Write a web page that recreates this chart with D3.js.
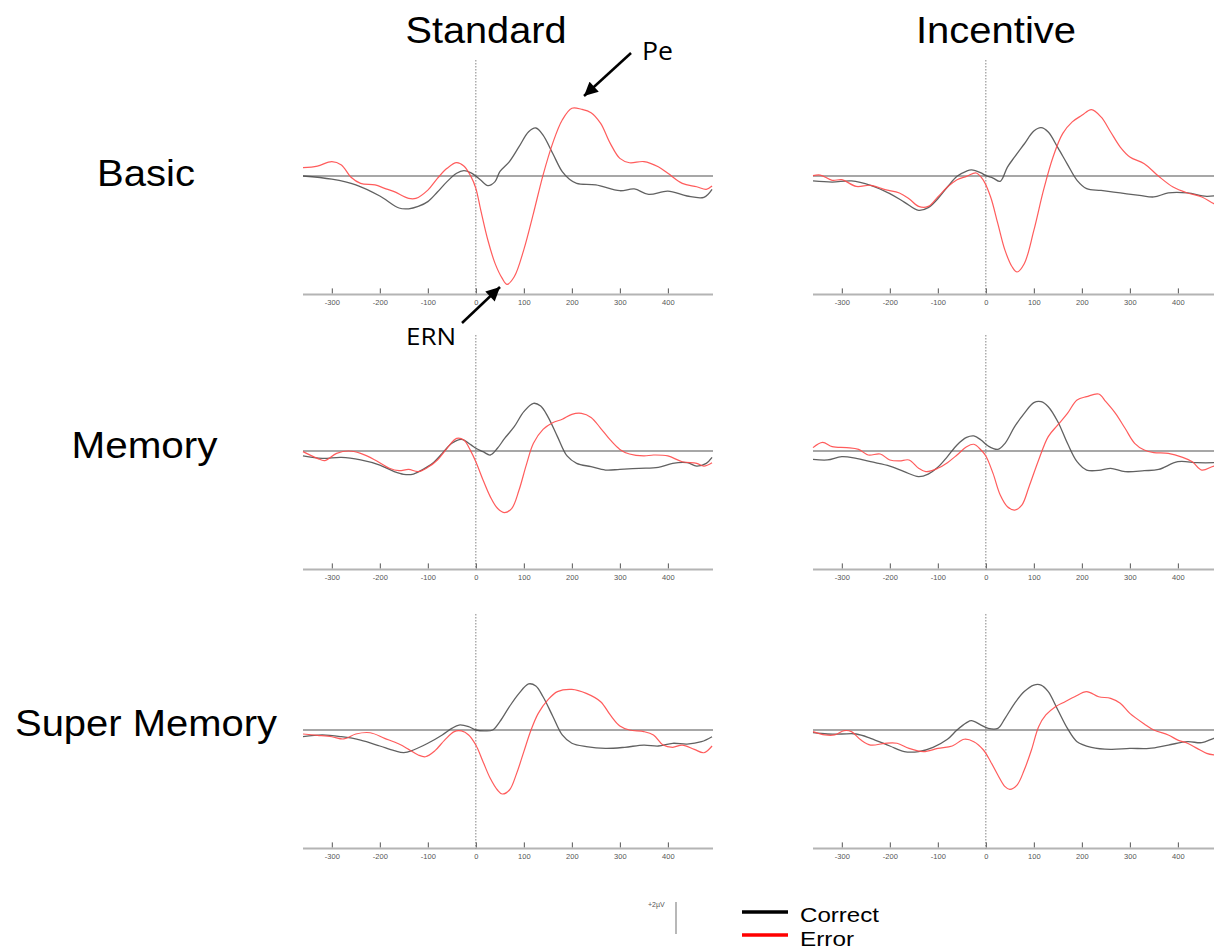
<!DOCTYPE html>
<html>
<head>
<meta charset="utf-8">
<script src="https://cdn.jsdelivr.net/npm/d3@7"></script>
<style>
  html, body { margin: 0; padding: 0; background: #fff; }
  svg { display: block; }
</style>
</head>
<body>
<svg id="chart" width="1214" height="948"></svg>
<script>
// ---------------- DATA ----------------
const columns = ["Standard", "Incentive"];
const rows = ["Basic", "Memory", "Super Memory"];
const tickValues = [-300, -200, -100, 0, 100, 200, 300, 400];
const timeDomain = [-360, 494];     // ms
const ampDomain = [-7.4, 7.4];      // µV
const legendLabels = ["Correct", "Error"];
const scaleBarLabel = "+2µV";
const annotations = ["Pe", "ERN"];

// [ms, µV]
const stdBasicCorrect = [[-360,0],[-300,-0.2],[-250,-0.55],[-200,-1.25],[-160,-2.0],[-140,-2.05],[-120,-1.9],[-100,-1.6],[-80,-1.0],[-60,-0.35],[-40,0.17],[-25,0.33],[-10,0.2],[0,0],[10,-0.25],[25,-0.6],[40,-0.35],[50,0.27],[70,0.9],[90,1.83],[110,2.77],[125,3.0],[140,2.56],[160,1.42],[180,0.27],[195,-0.2],[210,-0.46],[250,-0.56],[300,-0.92],[330,-0.81],[360,-1.15],[400,-0.94],[440,-1.25],[475,-1.33],[492,-0.83]];
const stdBasicError = [[-360,0.52],[-330,0.62],[-300,0.9],[-280,0.69],[-260,-0.08],[-240,-0.46],[-210,-0.56],[-190,-0.77],[-170,-0.98],[-140,-1.4],[-125,-1.4],[-100,-0.88],[-80,-0.15],[-60,0.48],[-40,0.83],[-25,0.62],[-10,-0.04],[0,-0.77],[10,-2.1],[25,-4.0],[40,-5.46],[55,-6.4],[65,-6.77],[80,-6.3],[100,-4.6],[120,-2.33],[140,0.06],[160,2.04],[180,3.5],[200,4.23],[220,4.17],[240,3.96],[260,3.29],[280,2.04],[300,1.1],[320,0.83],[350,0.9],[380,0.58],[400,0.17],[430,-0.46],[460,-0.67],[480,-0.83],[492,-0.63]];

const incBasicCorrect = [[-360,-0.31],[-320,-0.38],[-280,-0.31],[-240,-0.58],[-200,-1.1],[-170,-1.63],[-140,-2.15],[-120,-1.98],[-100,-1.42],[-80,-0.69],[-60,-0.02],[-40,0.31],[-30,0.38],[-10,0.19],[0,0.02],[15,-0.13],[30,-0.33],[45,0.56],[60,1.19],[80,2.0],[100,2.81],[115,3.02],[130,2.75],[150,1.77],[170,0.73],[190,-0.27],[210,-0.79],[240,-0.9],[280,-1.06],[320,-1.21],[350,-1.31],[380,-1.06],[420,-1.06],[460,-1.27],[494,-1.15]];
const incBasicError = [[-360,0.02],[-345,0.06],[-320,-0.27],[-300,-0.23],[-270,-0.65],[-240,-0.58],[-210,-0.85],[-180,-1.06],[-160,-1.42],[-140,-1.9],[-120,-1.9],[-100,-1.31],[-80,-0.69],[-60,-0.23],[-40,-0.02],[-20,0.19],[-5,-0.27],[10,-1.31],[25,-2.98],[40,-4.65],[55,-5.69],[65,-6.0],[80,-5.48],[100,-3.4],[120,-0.9],[140,1.19],[160,2.65],[180,3.38],[200,3.79],[220,4.15],[240,3.69],[260,2.75],[280,1.81],[300,1.19],[330,0.77],[360,-0.02],[390,-0.69],[420,-1.06],[450,-1.31],[475,-1.73],[494,-1.9]];

const stdMemoryCorrect = [[-360,-0.31],[-320,-0.46],[-280,-0.4],[-240,-0.56],[-200,-0.88],[-170,-1.29],[-150,-1.46],[-130,-1.44],[-110,-1.15],[-90,-0.77],[-70,-0.15],[-50,0.48],[-30,0.73],[-10,0.38],[0,0.17],[15,-0.04],[30,-0.25],[45,0.17],[60,0.79],[80,1.52],[100,2.46],[120,2.98],[135,2.81],[150,2.15],[170,0.9],[190,-0.31],[210,-0.77],[240,-0.98],[270,-1.19],[300,-1.15],[340,-1.08],[380,-1.02],[410,-0.77],[440,-0.73],[460,-0.94],[480,-0.77],[492,-0.4]];
const stdMemoryError = [[-360,-0.04],[-330,-0.46],[-315,-0.6],[-290,-0.15],[-265,0],[-240,-0.15],[-210,-0.56],[-180,-1.08],[-160,-1.23],[-140,-1.15],[-120,-1.29],[-100,-1.02],[-80,-0.56],[-60,0.17],[-40,0.79],[-25,0.69],[-10,-0.04],[0,-0.67],[15,-1.81],[30,-2.85],[45,-3.58],[60,-3.85],[75,-3.58],[90,-2.44],[105,-0.88],[120,0.48],[140,1.35],[160,1.77],[180,1.98],[200,2.29],[220,2.35],[240,2.1],[260,1.42],[280,0.69],[300,0.1],[320,-0.19],[350,-0.31],[370,-0.25],[400,-0.31],[430,-0.67],[460,-0.77],[475,-0.94],[492,-0.73]];

const incMemoryCorrect = [[-360,-0.52],[-330,-0.56],[-300,-0.35],[-270,-0.46],[-240,-0.67],[-200,-0.94],[-170,-1.29],[-140,-1.6],[-120,-1.44],[-100,-1.02],[-80,-0.35],[-60,0.38],[-40,0.85],[-25,0.94],[-10,0.69],[5,0.31],[25,0.1],[40,0.48],[60,1.52],[80,2.35],[100,3.02],[115,3.08],[130,2.77],[150,1.83],[170,0.48],[190,-0.67],[210,-1.19],[240,-1.19],[260,-1.08],[290,-1.29],[330,-1.23],[360,-1.15],[400,-0.67],[440,-0.73],[475,-0.73],[494,-0.7]];
const incMemoryError = [[-360,0.21],[-340,0.54],[-320,0.27],[-290,0.21],[-265,0.1],[-245,-0.25],[-220,-0.19],[-200,-0.56],[-180,-0.62],[-160,-0.56],[-140,-1.08],[-125,-1.29],[-100,-1.08],[-80,-0.73],[-60,-0.25],[-40,0.27],[-25,0.42],[-10,0.06],[0,-0.31],[15,-1.4],[30,-2.75],[45,-3.48],[60,-3.69],[75,-3.38],[90,-2.23],[110,-0.56],[130,0.9],[150,1.63],[170,2.35],[190,3.19],[210,3.4],[235,3.56],[250,3.08],[270,2.35],[290,1.42],[310,0.48],[330,0.06],[350,-0.1],[380,-0.15],[410,-0.4],[430,-0.67],[450,-1.19],[475,-0.94],[494,-0.9]];

const stdSuperCorrect = [[-360,-0.42],[-320,-0.31],[-280,-0.42],[-240,-0.63],[-200,-1.0],[-170,-1.29],[-150,-1.42],[-130,-1.25],[-100,-0.83],[-70,-0.31],[-50,0.1],[-35,0.31],[-15,0.21],[0,0],[20,-0.06],[35,0],[50,0.52],[70,1.46],[90,2.29],[110,2.88],[125,2.75],[140,2.08],[160,0.88],[180,-0.31],[200,-0.83],[230,-1.04],[270,-1.15],[310,-1.08],[350,-0.94],[380,-1.0],[410,-0.83],[440,-0.88],[470,-0.73],[492,-0.42]];
const stdSuperError = [[-360,-0.25],[-330,-0.33],[-300,-0.42],[-275,-0.56],[-250,-0.25],[-220,-0.17],[-190,-0.52],[-160,-0.88],[-140,-1.21],[-120,-1.56],[-105,-1.67],[-85,-1.29],[-65,-0.63],[-45,-0.1],[-30,-0.06],[-15,-0.31],[0,-0.94],[15,-1.98],[30,-3.02],[45,-3.75],[55,-4.0],[70,-3.75],[85,-2.71],[100,-1.35],[115,0],[130,1.04],[150,1.88],[170,2.4],[200,2.54],[230,2.29],[260,1.77],[280,0.94],[300,0.25],[320,0],[350,-0.1],[370,-0.31],[390,-0.94],[410,-1.08],[430,-0.94],[455,-1.21],[475,-1.42],[492,-1.0]];

const incSuperCorrect = [[-360,-0.17],[-330,-0.25],[-300,-0.25],[-270,-0.25],[-240,-0.52],[-200,-1.0],[-170,-1.35],[-140,-1.35],[-110,-1.08],[-80,-0.58],[-60,0],[-40,0.46],[-30,0.58],[-10,0.31],[5,0.1],[25,0.1],[40,0.73],[60,1.67],[80,2.4],[100,2.81],[115,2.81],[130,2.4],[150,1.25],[170,0.1],[190,-0.73],[220,-1.08],[260,-1.21],[300,-1.15],[340,-1.15],[380,-0.94],[420,-0.73],[450,-0.79],[475,-0.52],[494,-0.4]];
const incSuperError = [[-360,-0.1],[-335,-0.31],[-315,-0.31],[-295,-0.04],[-280,-0.1],[-260,-0.63],[-240,-0.94],[-210,-0.83],[-185,-0.83],[-160,-1.15],[-130,-1.35],[-100,-1.15],[-70,-1.0],[-45,-0.58],[-25,-0.73],[-5,-1.25],[10,-1.98],[25,-2.81],[40,-3.54],[50,-3.71],[65,-3.44],[80,-2.5],[95,-1.25],[110,0.21],[125,0.94],[145,1.46],[165,1.77],[185,2.08],[210,2.4],[235,2.08],[260,1.98],[280,1.67],[300,1.04],[330,0.38],[350,0],[380,-0.31],[400,-0.63],[420,-0.83],[440,-1.15],[460,-1.46],[475,-1.56],[494,-1.6]];

// grid of series: [row][col] = {correct, error}
const seriesGrid = [
  [{correct: stdBasicCorrect, error: stdBasicError}, {correct: incBasicCorrect, error: incBasicError}],
  [{correct: stdMemoryCorrect, error: stdMemoryError}, {correct: incMemoryCorrect, error: incMemoryError}],
  [{correct: stdSuperCorrect, error: stdSuperError}, {correct: incSuperCorrect, error: incSuperError}]
];

// ---------------- LAYOUT ----------------
const svg = d3.select("#chart");
const colLeft = [303, 813];
const colWidth = 410;
const rowZero = [176, 451, 730];
const halfH = 118.4;
const titleFont = "'Liberation Sans', Arial, Helvetica, sans-serif";
const calloutFont = "'Open Sans', 'Noto Sans', sans-serif";

const correctColor = "#505050";
const errorColor = "#ff4a4a";

function stretchedText(g, str, x, y, size, width, family, anchor) {
  return g.append("text")
    .attr("x", x).attr("y", y)
    .attr("font-family", family)
    .attr("font-size", size)
    .attr("fill", "#000")
    .attr("text-anchor", anchor || "start")
    .attr("textLength", width)
    .attr("lengthAdjust", "spacingAndGlyphs")
    .text(str);
}

// column titles
stretchedText(svg, columns[0], 486, 43, 36, 161, titleFont, "middle");
stretchedText(svg, columns[1], 996, 43, 36, 160, titleFont, "middle");

// row labels
const rowLabelPos = [[146, 186, 98], [144.5, 458, 146], [146, 736, 262]];
rows.forEach((r, i) => {
  stretchedText(svg, r, rowLabelPos[i][0], rowLabelPos[i][1], 36, rowLabelPos[i][2], titleFont, "middle");
});

rows.forEach((r, ri) => {
  columns.forEach((c, ci) => {
    const x = d3.scaleLinear().domain(timeDomain).range([colLeft[ci], colLeft[ci] + colWidth]);
    const y = d3.scaleLinear().domain(ampDomain).range([rowZero[ri] + halfH, rowZero[ri] - halfH]);
    const g = svg.append("g");
    const axisY = y(ampDomain[0]);

    // x axis line
    g.append("line")
      .attr("x1", x(timeDomain[0])).attr("x2", x(timeDomain[1]))
      .attr("y1", axisY).attr("y2", axisY)
      .attr("stroke", "#b4b4b4").attr("stroke-width", 2);

    // ticks via d3 axis (pointing up)
    const axis = d3.axisTop(x).tickValues(tickValues).tickSize(5).tickFormat(d => String(d));
    const ag = g.append("g").attr("transform", `translate(0,${axisY - 1})`).call(axis);
    ag.select(".domain").remove();
    ag.selectAll(".tick line").attr("stroke", "#555").attr("stroke-width", 1);
    ag.selectAll(".tick text")
      .attr("y", 12).attr("dy", 0)
      .attr("font-family", "'Liberation Sans', Arial, sans-serif")
      .attr("font-size", 7.5)
      .attr("fill", "#555");

    // zero line
    g.append("line")
      .attr("x1", x(timeDomain[0])).attr("x2", x(timeDomain[1]))
      .attr("y1", y(0)).attr("y2", y(0))
      .attr("stroke", "#8a8a8a").attr("stroke-width", 1.6);

    // vertical dotted line at 0 ms
    g.append("line")
      .attr("x1", x(0)).attr("x2", x(0))
      .attr("y1", y(0) - 116).attr("y2", axisY)
      .attr("stroke", "#666").attr("stroke-width", 0.8)
      .attr("stroke-dasharray", "1.5,1.5");

    const line = d3.line()
      .x(d => x(d[0])).y(d => y(d[1]))
      .curve(d3.curveCatmullRom.alpha(0.5));

    const s = seriesGrid[ri][ci];
    g.append("path").datum(s.correct)
      .attr("d", line).attr("fill", "none")
      .attr("stroke", correctColor).attr("stroke-width", 1.3).attr("stroke-opacity", 0.9);
    g.append("path").datum(s.error)
      .attr("d", line).attr("fill", "none")
      .attr("stroke", errorColor).attr("stroke-width", 1.2).attr("stroke-opacity", 0.9);
  });
});

// annotations (arrows)
const defs = svg.append("defs");
defs.append("marker")
  .attr("id", "arrowhead")
  .attr("viewBox", "0 0 10 10")
  .attr("refX", 10).attr("refY", 5)
  .attr("markerWidth", 6).attr("markerHeight", 5.5)
  .attr("markerUnits", "strokeWidth")
  .attr("orient", "auto")
  .append("path").attr("d", "M0,0 L10,5 L0,10 z").attr("fill", "#000");

svg.append("line")
  .attr("x1", 631).attr("y1", 53).attr("x2", 584).attr("y2", 96)
  .attr("stroke", "#000").attr("stroke-width", 2.5)
  .attr("marker-end", "url(#arrowhead)");
svg.append("line")
  .attr("x1", 462).attr("y1", 323).attr("x2", 500).attr("y2", 287)
  .attr("stroke", "#000").attr("stroke-width", 2.5)
  .attr("marker-end", "url(#arrowhead)");

stretchedText(svg, annotations[0], 642, 60, 26, 31, calloutFont, "start");
stretchedText(svg, annotations[1], 406, 345, 23, 50, calloutFont, "start");

// scale bar
svg.append("text")
  .attr("x", 648).attr("y", 907)
  .attr("font-family", "'Liberation Sans', Arial, sans-serif")
  .attr("font-size", 7).attr("fill", "#555")
  .text(scaleBarLabel);
svg.append("line")
  .attr("x1", 676).attr("x2", 676).attr("y1", 902).attr("y2", 934)
  .attr("stroke", "#a0a0a0").attr("stroke-width", 1.5);

// legend
const legendColors = ["#000", "#ff0000"];
const legendY = [912, 935];
const legendBase = [921.5, 945.5];
legendLabels.forEach((l, i) => {
  svg.append("line")
    .attr("x1", 742).attr("x2", 788)
    .attr("y1", legendY[i]).attr("y2", legendY[i])
    .attr("stroke", legendColors[i]).attr("stroke-width", 3.5);
  stretchedText(svg, l, 800, legendBase[i], 21, i === 0 ? 79 : 54, titleFont, "start");
});
</script>
</body>
</html>
